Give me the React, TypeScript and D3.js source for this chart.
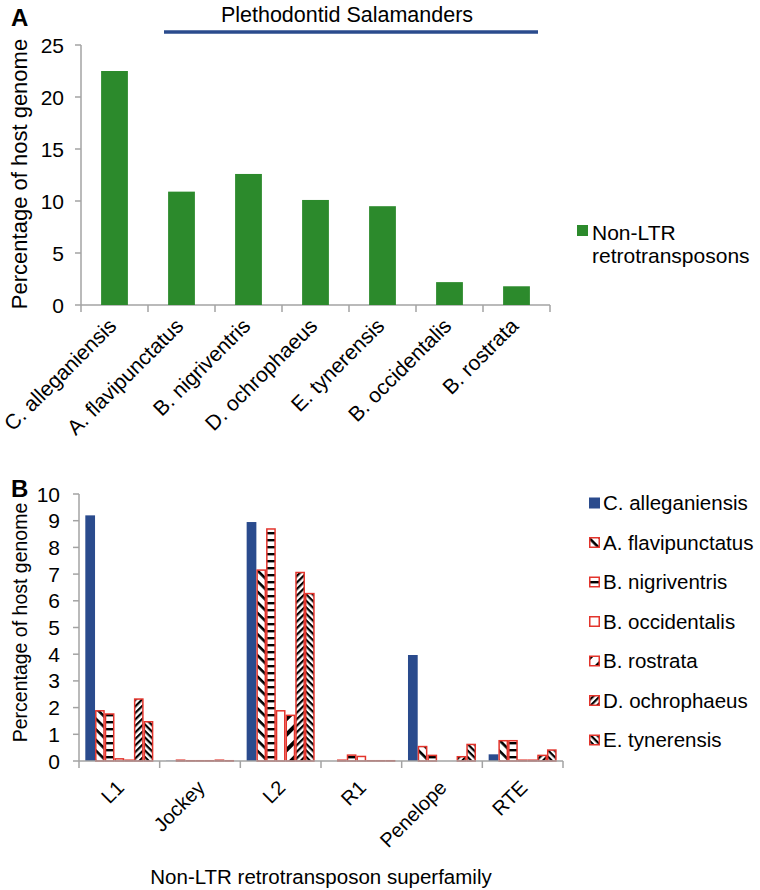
import React from "react";
import * as d3 from "d3";

// ---------- Panel A data ----------
const speciesA = [
  "C. alleganiensis",
  "A. flavipunctatus",
  "B. nigriventris",
  "D. ochrophaeus",
  "E. tynerensis",
  "B. occidentalis",
  "B. rostrata",
];
const nonLtrPercent = [22.5, 10.9, 12.6, 10.1, 9.5, 2.2, 1.8];
const yTicksA = [0, 5, 10, 15, 20, 25];

// ---------- Panel B data ----------
const superfamilies = ["L1", "Jockey", "L2", "R1", "Penelope", "RTE"];
const seriesNames = [
  "C. alleganiensis",
  "A. flavipunctatus",
  "B. nigriventris",
  "B. occidentalis",
  "B. rostrata",
  "D. ochrophaeus",
  "E. tynerensis",
];
const cAlleganiensis = [9.2, 0.01, 8.95, 0, 3.97, 0.25];
const aFlavipunctatus = [1.88, 0.03, 7.15, 0.03, 0.54, 0.76];
const bNigriventris = [1.76, 0.01, 8.69, 0.22, 0.21, 0.76];
const bOccidentalis = [0.08, 0.01, 1.88, 0.17, 0, 0.03];
const bRostrata = [0.03, 0.01, 1.71, 0.01, 0, 0.03];
const dOchrophaeus = [2.32, 0.03, 7.06, 0.01, 0.16, 0.21];
const eTynerensis = [1.47, 0.01, 6.27, 0.01, 0.62, 0.41];
const seriesValues = [
  cAlleganiensis,
  aFlavipunctatus,
  bNigriventris,
  bOccidentalis,
  bRostrata,
  dOchrophaeus,
  eTynerensis,
];
const seriesFills = [
  "#2a4b8d",
  "url(#pFlav)",
  "url(#pNigr)",
  "#ffffff",
  "url(#pRos)",
  "url(#pOch)",
  "url(#pTyn)",
];
const yTicksB = [0, 1, 2, 3, 4, 5, 6, 7, 8, 9, 10];

const FONT = "'Liberation Sans', Arial, Helvetica, sans-serif";
const AXIS = "#a3a3a3";
const RED = "#e3342c";
const GREEN = "#2c8a2c";
const BLUE = "#2a4b8d";

export default function App() {
  const W = 760;
  const H = 890;

  // Panel A scales
  const xA = d3
    .scaleBand<string>()
    .domain(speciesA)
    .range([81, 550])
    .paddingInner(0.6)
    .paddingOuter(0.3);
  const yA = d3.scaleLinear().domain([0, 25]).range([305, 45]);
  const stepA = xA.step();
  const startA = 81;

  // Panel B scales
  const x0 = d3.scaleBand<string>().domain(superfamilies).range([79, 563]).padding(0);
  const x1 = d3
    .scaleBand<string>()
    .domain(seriesNames)
    .range([0, x0.bandwidth()])
    .paddingInner(0)
    .paddingOuter(0.65);
  const yB = d3.scaleLinear().domain([0, 10]).range([761, 494]);

  const stripe = (id: string, size: number, thick: number, angle: number) => (
    <pattern
      id={id}
      patternUnits="userSpaceOnUse"
      width={size}
      height={size}
      patternTransform={`rotate(${angle})`}
    >
      <rect width={size} height={size} fill="#ffffff" />
      <rect width={size} height={thick} fill="#000000" />
    </pattern>
  );

  return (
    <svg
      width={W}
      height={H}
      style={{ position: "absolute", left: 0, top: 0, background: "#ffffff" }}
      fontFamily={FONT}
    >
      <defs>
        {stripe("pFlav", 7.5, 2.6, 45)}
        {stripe("pNigr", 7, 2.4, 0)}
        {stripe("pRos", 11, 4, -45)}
        {stripe("pOch", 4.6, 2.2, -45)}
        {stripe("pTyn", 4.6, 2.2, 45)}
      </defs>
      <rect width={W} height={H} fill="#ffffff" />

      {/* ================= Panel A ================= */}
      <text x={11} y={26} fontSize={24} fontWeight="bold" fill="#000">
        A
      </text>
      <text x={347} y={22} fontSize={21.5} textAnchor="middle" fill="#000">
        Plethodontid Salamanders
      </text>
      <line x1={164} x2={538} y1={32} y2={32} stroke={BLUE} strokeWidth={3.5} />

      {/* y axis */}
      <line x1={81} x2={81} y1={yA(25)} y2={yA(0)} stroke={AXIS} strokeWidth={1.5} />
      {yTicksA.map((t) => (
        <g key={"ya" + t}>
          <line x1={75} x2={81} y1={yA(t)} y2={yA(t)} stroke={AXIS} strokeWidth={1.5} />
          <text x={64} y={yA(t)} dy="0.36em" fontSize={21} textAnchor="end" fill="#000">
            {t}
          </text>
        </g>
      ))}
      <text
        transform={`translate(27, ${(yA(0) + yA(25)) / 2 - 1}) rotate(-90)`}
        fontSize={22}
        textAnchor="middle"
        fill="#000"
      >
        Percentage of host genome
      </text>

      {/* x axis */}
      <line x1={81} x2={550} y1={yA(0)} y2={yA(0)} stroke={AXIS} strokeWidth={1.5} />
      {d3.range(speciesA.length + 1).map((i) => (
        <line
          key={"xta" + i}
          x1={startA + i * stepA}
          x2={startA + i * stepA}
          y1={yA(0)}
          y2={yA(0) + 7}
          stroke={AXIS}
          strokeWidth={1.5}
        />
      ))}

      {/* bars */}
      {speciesA.map((s, i) => (
        <rect
          key={"ba" + s}
          x={xA(s)}
          width={xA.bandwidth()}
          y={yA(nonLtrPercent[i])}
          height={yA(0) - yA(nonLtrPercent[i])}
          fill={GREEN}
        />
      ))}

      {/* category labels */}
      {speciesA.map((s) => {
        const cx = (xA(s) as number) + xA.bandwidth() / 2;
        return (
          <text
            key={"la" + s}
            transform={`translate(${cx - 2}, ${322}) rotate(-45)`}
            dy="0.35em"
            fontSize={21}
            textAnchor="end"
            fill="#000"
          >
            {s}
          </text>
        );
      })}

      {/* legend A */}
      <rect x={577} y={225} width={11} height={11} fill={GREEN} />
      <text x={592} y={240} fontSize={21} fill="#000">
        Non-LTR
      </text>
      <text x={592} y={263} fontSize={21} fill="#000">
        retrotransposons
      </text>

      {/* ================= Panel B ================= */}
      <text x={11} y={497} fontSize={24} fontWeight="bold" fill="#000">
        B
      </text>

      <line x1={79} x2={79} y1={yB(10)} y2={yB(0)} stroke={AXIS} strokeWidth={1.5} />
      {yTicksB.map((t) => (
        <g key={"yb" + t}>
          <line x1={73} x2={79} y1={yB(t)} y2={yB(t)} stroke={AXIS} strokeWidth={1.5} />
          <text x={60} y={yB(t)} dy="0.36em" fontSize={21} textAnchor="end" fill="#000">
            {t}
          </text>
        </g>
      ))}
      <text
        transform={`translate(27, ${(yB(0) + yB(10)) / 2 - 5}) rotate(-90)`}
        fontSize={19.5}
        textAnchor="middle"
        fill="#000"
      >
        Percentage of host genome
      </text>

      {/* bars B */}
      {superfamilies.map((sf, ci) => (
        <g key={"gb" + sf} transform={`translate(${x0(sf)},0)`}>
          {seriesNames.map((sn, si) => {
            const v = seriesValues[si][ci];
            const x = x1(sn) as number;
            const w = x1.bandwidth();
            const y = yB(v);
            const h = yB(0) - y;
            if (si === 0) {
              return <rect key={sn} x={x} width={w} y={y} height={h} fill={seriesFills[si]} />;
            }
            return (
              <rect
                key={sn}
                x={x + 0.75}
                width={w - 1.5}
                y={y}
                height={h}
                fill={seriesFills[si]}
                stroke={RED}
                strokeWidth={1.5}
              />
            );
          })}
        </g>
      ))}

      <line x1={79} x2={563} y1={yB(0)} y2={yB(0)} stroke={AXIS} strokeWidth={1.5} />
      {d3.range(superfamilies.length + 1).map((i) => {
        const xx = 79 + i * x0.step();
        return (
          <line
            key={"xtb" + i}
            x1={xx}
            x2={xx}
            y1={yB(0)}
            y2={yB(0) + 7}
            stroke={AXIS}
            strokeWidth={1.5}
          />
        );
      })}

      {superfamilies.map((sf) => {
        const cx = (x0(sf) as number) + x0.bandwidth() / 2;
        return (
          <text
            key={"lb" + sf}
            transform={`translate(${cx + 1}, ${784}) rotate(-45)`}
            dy="0.35em"
            fontSize={20}
            textAnchor="end"
            fill="#000"
          >
            {sf}
          </text>
        );
      })}

      <text x={321} y={884} fontSize={20.5} textAnchor="middle" fill="#000">
        Non-LTR retrotransposon superfamily
      </text>

      {/* legend B */}
      {seriesNames.map((sn, i) => {
        const cy = 503 + i * 39.5;
        return (
          <g key={"lg" + sn}>
            {i === 0 ? (
              <rect x={589} y={cy - 5.5} width={11} height={11} fill={seriesFills[i]} />
            ) : (
              <rect
                x={589.75}
                y={cy - 4.75}
                width={9.5}
                height={9.5}
                fill={seriesFills[i]}
                stroke={RED}
                strokeWidth={1.5}
              />
            )}
            <text x={603} y={cy} dy="0.36em" fontSize={20.5} fill="#000">
              {sn}
            </text>
          </g>
        );
      })}
    </svg>
  );
}
